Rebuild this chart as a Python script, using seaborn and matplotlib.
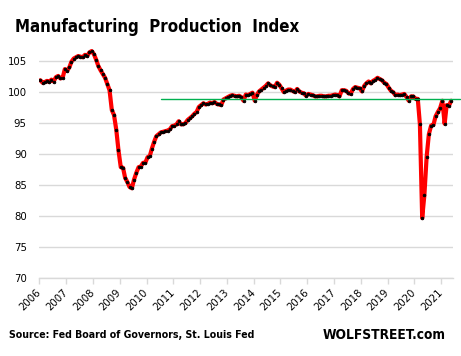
import numpy as np
import pandas as pd
import matplotlib
matplotlib.use("Agg")
import matplotlib.pyplot as plt
import matplotlib.dates as mdates
import seaborn as sns

# ---- data (monthly index, Jan 2006 .. May 2021) ----
v2006 = [101.9, 101.5, 101.6, 101.8, 101.6, 102.0, 101.7, 102.4, 102.6, 102.2, 102.3, 103.7]
v2007 = [103.4, 104.0, 104.9, 105.4, 105.6, 105.8, 105.7, 105.6, 106.0, 105.8, 106.4, 106.6]
v2008 = [106.1, 105.2, 104.2, 103.5, 102.9, 102.3, 101.3, 100.3, 97.1, 96.3, 93.9, 90.6]
v2009 = [87.9, 87.8, 86.2, 85.5, 84.7, 84.5, 85.9, 87.0, 87.9, 88.0, 88.6, 88.6]
v2010 = [89.5, 89.7, 90.9, 92.0, 92.9, 93.2, 93.5, 93.6, 93.7, 93.8, 94.0, 94.5]
v2011 = [94.6, 94.8, 95.3, 94.8, 94.8, 95.0, 95.5, 95.8, 96.1, 96.5, 96.8, 97.6]
v2012 = [97.9, 98.2, 98.0, 98.1, 98.3, 98.2, 98.4, 98.1, 98.0, 97.9, 98.8, 99.0]
v2013 = [99.2, 99.4, 99.5, 99.4, 99.3, 99.4, 99.2, 98.6, 99.6, 99.5, 99.7, 99.9]
v2014 = [98.6, 99.6, 100.1, 100.4, 100.7, 101.0, 101.4, 101.1, 100.9, 100.8, 101.5, 101.2]
v2015 = [100.6, 100.0, 100.2, 100.4, 100.4, 100.2, 100.0, 100.5, 100.1, 99.9, 99.8, 99.4]
v2016 = [99.7, 99.6, 99.5, 99.3, 99.3, 99.4, 99.4, 99.3, 99.3, 99.4, 99.4, 99.5]
v2017 = [99.6, 99.5, 99.3, 100.3, 100.3, 100.2, 99.8, 99.7, 100.5, 100.8, 100.7, 100.6]
v2018 = [100.1, 101.0, 101.4, 101.7, 101.4, 101.8, 102.0, 102.3, 102.1, 101.9, 101.5, 101.3]
v2019 = [100.7, 100.2, 100.0, 99.5, 99.6, 99.5, 99.6, 99.7, 99.2, 98.6, 99.3, 99.3]
v2020 = [98.9, 98.9, 94.8, 79.7, 83.4, 89.6, 93.2, 94.6, 94.7, 96.1, 96.8, 97.4]
v2021 = [98.6, 94.9, 97.9, 97.8, 98.6]

values = (v2006 + v2007 + v2008 + v2009 + v2010 + v2011 + v2012 + v2013 +
          v2014 + v2015 + v2016 + v2017 + v2018 + v2019 + v2020 + v2021)
start_month = "2006-01-01"
ref_level = 98.9
ref_start = "2010-07-15"
ref_end = "2021-09-15"
year_ticks = list(range(2006, 2022))
y_ticks = [70, 75, 80, 85, 90, 95, 100, 105]

title_text = "Manufacturing  Production  Index"
source_text = "Source: Fed Board of Governors, St. Louis Fed"
brand_text = "WOLFSTREET.com"

dates = pd.date_range(start_month, periods=len(values), freq="MS") + pd.Timedelta(days=14)
df = pd.DataFrame({"date": dates, "value": values})

# ---- style ----
sns.set_theme(style="white")
plt.rcParams["font.family"] = ["DejaVu Sans"]
plt.rcParams["text.color"] = "black"
plt.rcParams["xtick.color"] = "black"
plt.rcParams["ytick.color"] = "black"

fig = plt.figure(figsize=(4.61, 3.56), dpi=100)
ax = fig.add_axes([0.0853, 0.2183, 0.982 - 0.0853, 0.8722 - 0.2183])

grid_c = "#d9d9d9"
for yv in y_ticks:
    ax.axhline(yv, color=grid_c, lw=1.0, zorder=1)

sns.lineplot(data=df, x="date", y="value", ax=ax, color="#ff0000", lw=3.0,
             marker="o", markersize=1.9, markerfacecolor="black",
             markeredgecolor="black", markeredgewidth=0.6, zorder=3)

ax.plot([pd.Timestamp(ref_start), pd.Timestamp(ref_end)], [ref_level, ref_level],
        color="#00b050", lw=1.0, zorder=4, clip_on=False)

ax.set_xlim(pd.Timestamp("2006-01-01"), pd.Timestamp("2021-06-05"))
ax.set_ylim(70, 107.5)
ax.set_yticks(y_ticks)
ax.set_yticklabels([str(t) for t in y_ticks], fontsize=7.3, color="#000000")
xt = [pd.Timestamp(f"{y}-01-01") for y in year_ticks]
ax.set_xticks(xt)
ax.set_xticklabels([str(y) for y in year_ticks], fontsize=7.3, rotation=45,
                   ha="right", va="center", rotation_mode="anchor", color="#000000")
ax.tick_params(axis="y", length=0, pad=9)
ax.tick_params(axis="x", length=4, width=1, color=grid_c, pad=5, bottom=True)
ax.set_xlabel("")
ax.set_ylabel("")
for s in ["top", "right", "left"]:
    ax.spines[s].set_visible(False)
ax.spines["bottom"].set_color(grid_c)
ax.spines["bottom"].set_linewidth(1.0)

fig.text(15 / 461, 1 - 27 / 356, title_text, fontsize=12.1, fontweight="bold",
         ha="left", va="center", family=["DejaVu Sans"], fontstretch="condensed",
         color="black")
fig.text(9 / 461, 1 - 335 / 356, source_text, fontsize=7.6, fontweight="bold",
         ha="left", va="center", family=["DejaVu Sans"], fontstretch="condensed",
         color="black")
fig.text(446 / 461, 1 - 335 / 356, brand_text, fontsize=9.8, fontweight="bold",
         ha="right", va="center", family=["DejaVu Sans"], fontstretch="condensed",
         color="black")

fig.savefig("out.png", dpi=100, facecolor="white")
